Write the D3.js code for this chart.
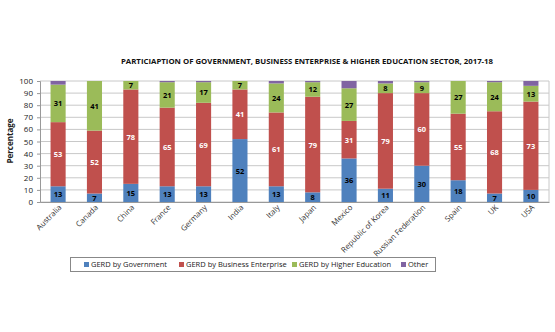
<!DOCTYPE html>
<html><head><meta charset="utf-8">
<script src="https://cdn.jsdelivr.net/npm/d3@7"></script>
<style>body{margin:0;background:#fff}svg{display:block}</style>
</head><body>
<svg id="c" width="555" height="332"></svg>
<script>
const categories = ["Australia","Canada","China","France","Germany","India","Italy","Japan","Mexico","Republic of Korea","Russian Federation","Spain","UK","USA"];
const government = [13,7,15,13,13,52,13,8,36,11,30,18,7,10];
const business = [53,52,78,65,69,41,61,79,31,79,60,55,68,73];
const higherEd = [31,41,7,21,17,7,24,12,27,8,9,27,24,13];
const other = [3,0,0,1,1,0,2,1,6,2,1,0,1,4];
const seriesNames = ["GERD by Government","GERD by Business Enterprise","GERD by Higher Education","Other"];
const colors = ["#4f81bd","#c0504d","#9bbb59","#8064a2"];
const labelColors = ["#000","#fff","#000",null];
const yTicks = [0,10,20,30,40,50,60,70,80,90,100];

const svg = d3.select("#c");
const font = "'Open Sans', Arial, sans-serif";
const x = d3.scaleBand().domain(categories).range([40,549]).paddingInner(0.585).paddingOuter(0.29);
const y = d3.scaleLinear().domain([0,100]).range([202,81]);

const rows = categories.map((c,i)=>({cat:c, s0:government[i], s1:business[i], s2:higherEd[i], s3:other[i]}));
const stack = d3.stack().keys(["s0","s1","s2","s3"])(rows);

// title
svg.append("text").attr("x",307).attr("y",64).attr("text-anchor","middle")
  .attr("font-family",font).attr("font-weight","bold").attr("font-size",7.8).attr("fill","#111")
  .text("PARTICIAPTION OF GOVERNMENT, BUSINESS ENTERPRISE & HIGHER EDUCATION SECTOR, 2017-18");

// grid
svg.append("g").selectAll("line").data(yTicks).join("line")
  .attr("x1",40).attr("x2",549).attr("y1",d=>y(d)).attr("y2",d=>y(d))
  .attr("stroke","#c8c8c8").attr("stroke-width",1);
svg.append("line").attr("x1",549).attr("x2",549).attr("y1",y(100)).attr("y2",y(0)).attr("stroke","#c8c8c8");

// y axis
const ya = svg.append("g").attr("transform","translate(40,0)").call(d3.axisLeft(y).tickValues(yTicks).tickSize(3).tickPadding(4));
ya.selectAll("text").attr("font-family",font).attr("font-size",8).attr("fill","#222");
ya.selectAll("line,path").attr("stroke","#999");

svg.append("text").attr("transform","translate(13,141) rotate(-90)").attr("text-anchor","middle")
  .attr("font-family",font).attr("font-weight","bold").attr("font-size",8).attr("fill","#222").text("Percentage");

// bars
stack.forEach((layer,k)=>{
  const g = svg.append("g");
  g.selectAll("rect").data(layer).join("rect")
    .attr("x",d=>x(d.data.cat)).attr("width",x.bandwidth())
    .attr("y",d=>y(d[1])).attr("height",d=>y(d[0])-y(d[1]))
    .attr("fill",colors[k]);
  if(labelColors[k]){
    g.selectAll("text").data(layer).join("text")
      .attr("x",d=>x(d.data.cat)+x.bandwidth()/2)
      .attr("y",d=>(y(d[0])+y(d[1]))/2+3)
      .attr("text-anchor","middle").attr("font-family",font).attr("font-weight","bold")
      .attr("font-size",7.5).attr("fill",labelColors[k])
      .text(d=>d[1]-d[0]);
  }
});

// x axis
const xa = svg.append("g").attr("transform",`translate(0,${y(0)})`).call(d3.axisBottom(x).tickSize(0).tickPadding(0));
xa.select("path").attr("stroke","#999");
xa.selectAll("text").attr("font-family",font).attr("font-size",7.8).attr("fill","#333")
  .attr("text-anchor","end").attr("dy",0)
  .attr("transform","translate(4,6) rotate(-45)");

// legend
svg.append("rect").attr("x",70.5).attr("y",257.5).attr("width",365).attr("height",14)
  .attr("fill","#fff").attr("stroke","#888");
const lx = [84,179,292,401];
const lg = svg.append("g").selectAll("g").data(seriesNames).join("g")
  .attr("transform",(d,i)=>`translate(${lx[i]},264.5)`);
lg.append("rect").attr("x",0).attr("y",-2.5).attr("width",5).attr("height",5).attr("fill",(d,i)=>colors[i]);
lg.append("text").attr("x",7).attr("y",2.8).attr("font-family",font).attr("font-size",7.5).attr("fill","#222").text(d=>d);
</script>
</body></html>
